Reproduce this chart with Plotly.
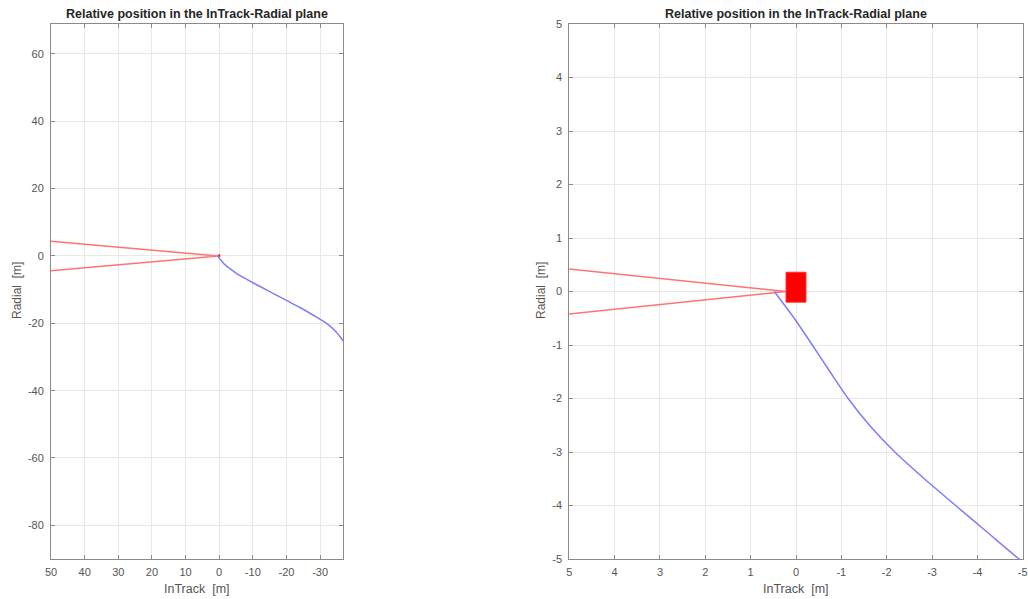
import plotly.graph_objects as go

# Approach trajectory of the chaser in the InTrack-Radial plane [m]
traj_intrack = [0.48, 0.04, -0.36, -0.75, -1.15, -1.62, -2.18, -2.83, -3.52, -4.22,
                -4.92, -6.50, -9.00, -12.0, -16.0, -20.0, -24.0, -28.0, -32.0,
                -34.5, -36.9, -38.0]
traj_radial = [0.0, -0.50, -1.00, -1.50, -2.00, -2.50, -3.00, -3.50, -4.00, -4.50,
               -5.00, -6.00, -7.40, -9.00, -11.1, -13.2, -15.3, -17.6, -20.1,
               -22.3, -25.2, -26.6]

# Approach cone (two boundary lines meeting at the docking port)
cone_intrack = [50.0, 0.22, 50.0]
cone_radial = [4.38, 0.0, -4.38]

# Target body outline
target_intrack = [0.22, -0.22, -0.22, 0.22, 0.22]
target_radial = [0.36, 0.36, -0.20, -0.20, 0.36]

# Axis ticks
left_xticks = [50, 40, 30, 20, 10, 0, -10, -20, -30]
left_yticks = [-80, -60, -40, -20, 0, 20, 40, 60]
right_xticks = [5, 4, 3, 2, 1, 0, -1, -2, -3, -4, -5]
right_yticks = [-5, -4, -3, -2, -1, 0, 1, 2, 3, 4, 5]

W, H = 1028, 599
TITLE = "Relative position in the InTrack-Radial plane"
FONT = "Liberation Sans, Arial, Helvetica, sans-serif"
AX_COLOR = "#8a8a8a"
GRID = "#e8e8e8"
TICK_FONT = dict(family=FONT, size=11, color="#555555")

BLUE = "rgb(125,125,255)"
RED = "rgb(255,115,115)"

fig = go.Figure()

for xa, ya in (("x", "y"), ("x2", "y2")):
    fig.add_trace(go.Scatter(x=cone_intrack, y=cone_radial, mode="lines",
                             line=dict(color=RED, width=1.6),
                             xaxis=xa, yaxis=ya, showlegend=False, hoverinfo="skip"))
    fig.add_trace(go.Scatter(x=target_intrack, y=target_radial, mode="lines",
                             fill="toself", fillcolor="#ff0000",
                             line=dict(color="#ff3030", width=1),
                             xaxis=xa, yaxis=ya, showlegend=False, hoverinfo="skip"))
    fig.add_trace(go.Scatter(x=traj_intrack, y=traj_radial, mode="lines",
                             line=dict(color=BLUE, width=1.5, shape="spline", smoothing=0.8),
                             xaxis=xa, yaxis=ya, showlegend=False, hoverinfo="skip"))


def labels(vals):
    # plain hyphen-minus labels
    return [str(v) for v in vals]


def axis_style(**kw):
    base = dict(showline=True, linecolor=AX_COLOR, linewidth=1, mirror="allticks",
                ticks="inside", ticklen=4, tickcolor=AX_COLOR, tickwidth=1,
                showgrid=True, gridcolor=GRID, gridwidth=1, zeroline=False,
                tickfont=TICK_FONT, automargin=False, fixedrange=True,
                tickmode="array")
    base.update(kw)
    return base


y_dom = [1 - 559 / H, 1 - 24 / H]
eps = 1e-6
fig.update_layout(
    width=W, height=H,
    margin=dict(l=0, r=0, t=0, b=0),
    paper_bgcolor="white", plot_bgcolor="white",
    xaxis=axis_style(domain=[51 / W, 343.3 / W], range=[50 + eps, -36.9],
                     tickvals=left_xticks, ticktext=labels(left_xticks),
                     ticklabelstandoff=3, anchor="y"),
    yaxis=axis_style(domain=y_dom, range=[-90.0, 68.9],
                     tickvals=left_yticks, ticktext=labels(left_yticks),
                     ticklabelstandoff=4, anchor="x"),
    xaxis2=axis_style(domain=[569.3 / W, 1022.7 / W], range=[5 + eps, -5 - eps],
                      tickvals=right_xticks, ticktext=labels(right_xticks),
                      ticklabelstandoff=3, anchor="y2"),
    yaxis2=axis_style(domain=y_dom, range=[-5 - eps, 5 + eps],
                      tickvals=right_yticks, ticktext=labels(right_yticks),
                      ticklabelstandoff=4, anchor="x2"),
)

annotations = []
for cx in (197 / W, 796 / W):
    annotations.append(dict(text="<b>" + TITLE + "</b>", x=cx, y=1 - 14 / H,
                            xref="paper", yref="paper", showarrow=False,
                            xanchor="center", yanchor="middle",
                            font=dict(family=FONT, size=12.5, color="#262626")))
    annotations.append(dict(text="InTrack\u00a0 [m]", x=cx, y=1 - 589 / H,
                            xref="paper", yref="paper", showarrow=False,
                            xanchor="center", yanchor="middle",
                            font=dict(family=FONT, size=12.5, color="#555555")))
for cx in (17 / W, 541 / W):
    annotations.append(dict(text="Radial\u00a0 [m]", x=cx, y=1 - 291 / H,
                            xref="paper", yref="paper", showarrow=False,
                            textangle=-90, xanchor="center", yanchor="middle",
                            font=dict(family=FONT, size=12, color="#555555")))
fig.update_layout(annotations=annotations)

fig.write_html("out.html")
